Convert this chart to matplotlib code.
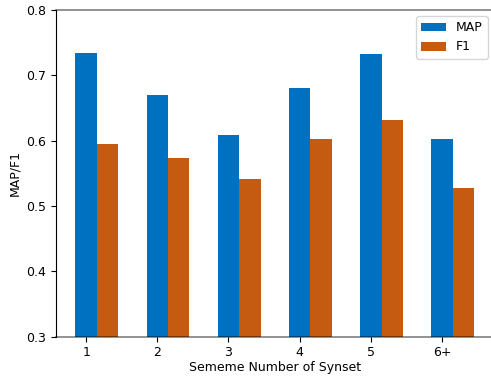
import matplotlib
matplotlib.use("Agg")
import matplotlib.pyplot as plt
import numpy as np

categories = ["1", "2", "3", "4", "5", "6+"]
map_values = [0.734, 0.670, 0.609, 0.681, 0.733, 0.603]
f1_values = [0.595, 0.574, 0.542, 0.602, 0.631, 0.528]

plt.rcParams['font.family'] = ['DejaVu Sans']
plt.rcParams['font.size'] = 9

fig = plt.figure(figsize=(4.91, 3.76), dpi=100)
ax = fig.add_axes([55.5/491, 1-336.7/376, (494-55.5)/491, (336.7-10)/376])

x = np.arange(len(categories))
w = 0.3
ax.bar(x, map_values, w, color="#0070C0", label="MAP")
ax.bar(x + w, f1_values, w, color="#C55A11", label="F1")

ax.set_ylim(0.3, 0.8)
ax.set_yticks([0.3, 0.4, 0.5, 0.6, 0.7, 0.8])
ax.set_xticks(x)
ax.set_xticklabels(categories)
ax.set_xlabel("Sememe Number of Synset", labelpad=1)
ax.set_ylabel("MAP/F1", labelpad=3)

for s in ["top", "bottom"]:
    ax.spines[s].set_color((0, 0, 0, 0.5))
    ax.spines[s].set_linewidth(1.2)
ax.spines["right"].set_visible(False)
ax.spines["left"].set_color("black")

ax.legend(loc="upper right", fontsize=9)

fig.savefig("out.png", dpi=100)
